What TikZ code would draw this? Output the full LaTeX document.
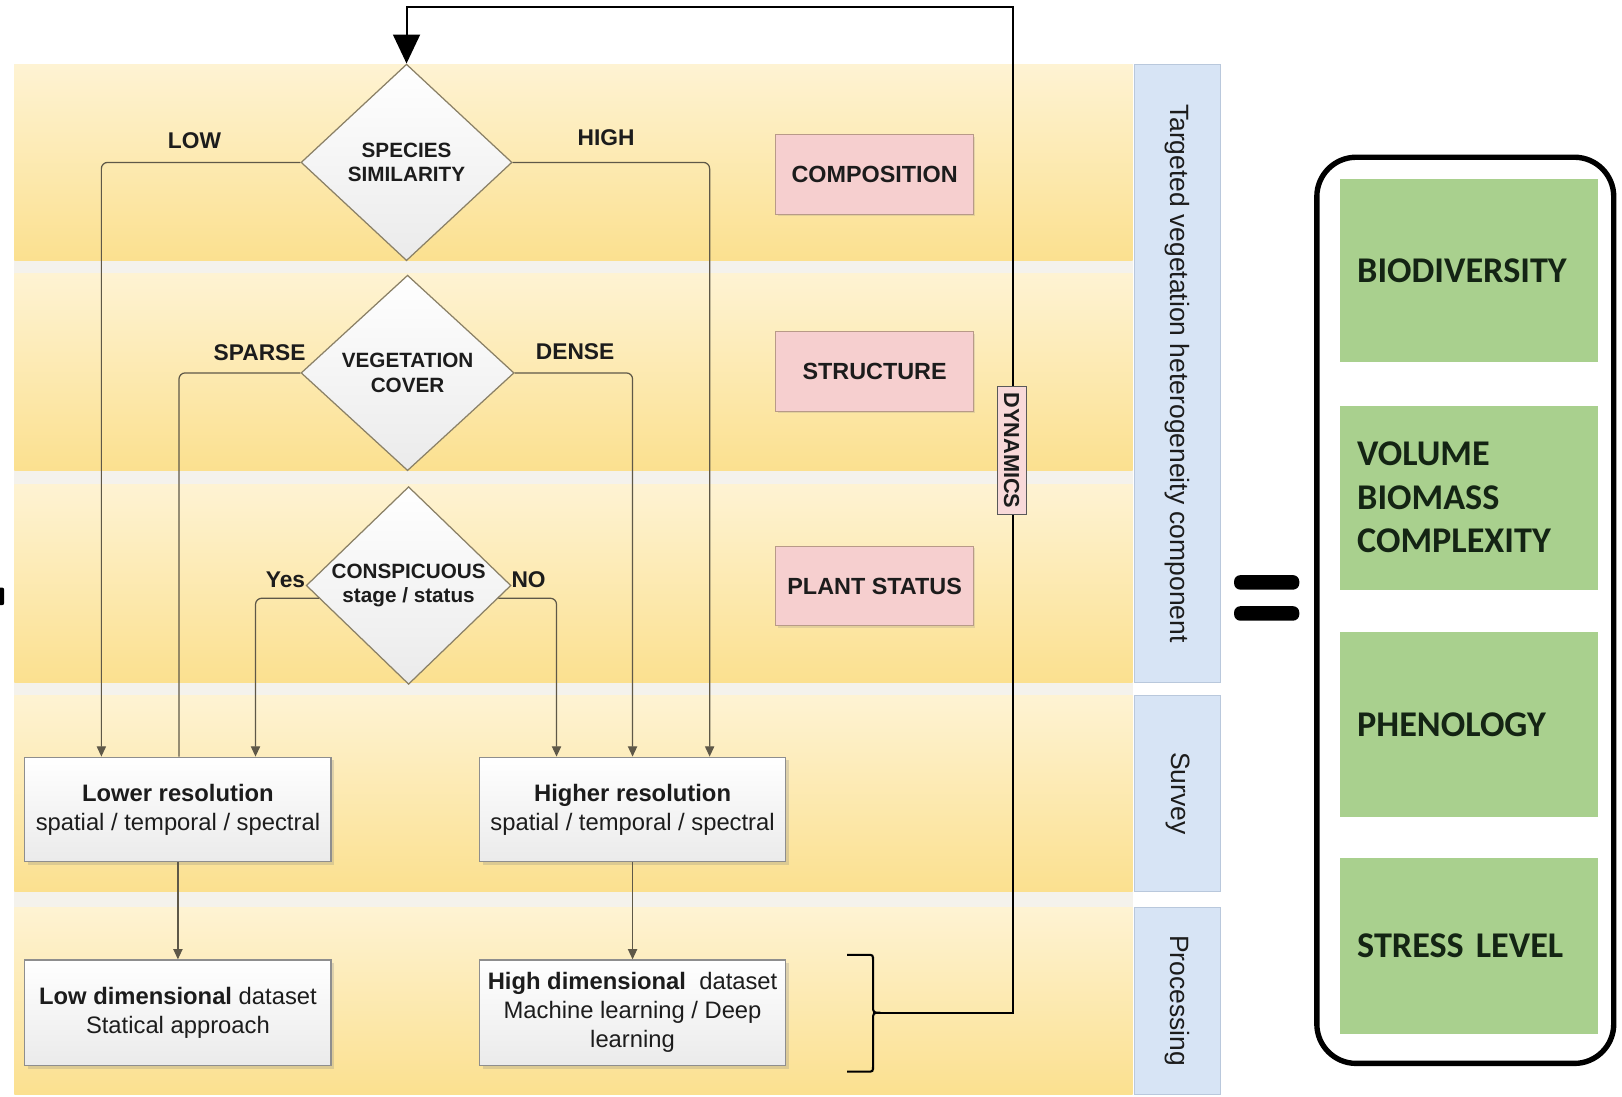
\documentclass[tikz,border=0pt]{standalone}
\usepackage{fontspec}
\setmainfont{Liberation Sans}
\newfontfamily\calib{Carlito}
\usetikzlibrary{shapes.geometric,arrows.meta,calc,shadows}
\definecolor{bandtop}{HTML}{FEF3D3}
\definecolor{bandbot}{HTML}{FBE08F}
\definecolor{gapc}{HTML}{F4F2EC}
\definecolor{lanefill}{HTML}{D7E4F5}
\definecolor{laneborder}{HTML}{B9C8DC}
\definecolor{pinkfill}{HTML}{F6CFCF}
\definecolor{pinkborder}{HTML}{B89A88}
\definecolor{greenfill}{HTML}{A9D08E}
\definecolor{greentext}{HTML}{142414}
\definecolor{connc}{HTML}{5E5848}
\definecolor{diaborder}{HTML}{8A8066}
\definecolor{boxborder}{HTML}{8E8E8E}
\definecolor{textdark}{HTML}{1C1C1C}
\tikzset{
  dia/.style={diamond, draw=diaborder, line width=0.6pt, top color=white, bottom color=gray!16,
    inner sep=0pt, align=center, text=textdark, font=\bfseries\fontsize{10}{12}\selectfont},
  flowbox/.style={rectangle, draw=boxborder, line width=0.6pt, top color=white, bottom color=gray!16,
    minimum width=148pt, minimum height=50.5pt, inner sep=1pt, align=center, text=textdark,
    font=\fontsize{11.5}{14}\selectfont,
    drop shadow={shadow xshift=1.5pt, shadow yshift=-1.5pt, opacity=0.25}},
  pinkbox/.style={rectangle, fill=pinkfill, draw=pinkborder, line width=0.5pt,
    minimum width=95.5pt, minimum height=38.5pt, text=textdark,
    font=\bfseries\fontsize{11.3}{13}\selectfont,
    drop shadow={shadow xshift=1pt, shadow yshift=-1pt, opacity=0.2}},
  lbl/.style={inner sep=0pt, text=textdark, font=\bfseries\fontsize{11}{13}\selectfont},
  conn/.style={draw=connc, line width=0.6pt, rounded corners=3pt},
  arr/.style={conn, -{Triangle[length=5pt,width=4.5pt]}},
  lane/.style={rotate=-90, fill=lanefill, draw=laneborder, line width=0.4pt, inner sep=0pt,
    minimum height=41.5pt, text=textdark, font=\fontsize{12.8}{15}\selectfont},
  greenbox/.style={fill=greenfill, minimum width=125pt, inner xsep=8.5pt, text width=108pt,
    align=left, text=greentext, font=\calib\bfseries\fontsize{17.5}{21}\selectfont},
  fbline/.style={draw=black, line width=1pt},
  dynbox/.style={rotate=-90, fill=pinkfill!80!white, draw=gray!70!black, line width=0.5pt,
    minimum width=61.5pt, minimum height=14pt, inner sep=0.5pt, text=textdark,
    font=\bfseries\fontsize{10.5}{12}\selectfont}
}
\begin{document}
\begin{tikzpicture}[x=0.5pt,y=-0.5pt]
\useasboundingbox (0,0) rectangle (1568,1060);
\fill[white] (0,0) rectangle (1568,1060);

% swim-lane background
\fill[gapc] (14,62) rectangle (1095,1058);
\foreach \a/\b in {62/252,264/455,468/660,672/862,877/1058}
  \shade[top color=bandtop, bottom color=bandbot] (14,\a) rectangle (1095,\b);

% lane labels
\node[lane, minimum width=299pt] (lane1) at (1138.5,361) {Targeted vegetation heterogeneity component};
\node[lane, minimum width=95pt] (lane2) at (1138.5,767) {Survey};
\node[lane, minimum width=90.5pt] (lane3) at (1138.5,967.5) {Processing};

% small mark at left edge
\fill[black, rounded corners=1pt] (-2,568) rectangle (4,585);

% decisions
\node[dia, minimum width=102pt, minimum height=95pt] (d1) at (393,157) {SPECIES\\SIMILARITY};
\node[dia, minimum width=103pt, minimum height=94.5pt] (d2) at (394,360.5) {VEGETATION\\COVER};
\node[dia, minimum width=99pt, minimum height=94pt] (d3) at (395,566) {CONSPICUOUS\\stage / status};

% boxes
\node[flowbox] (lowres) at (172,782.5) {\textbf{Lower resolution}\\spatial / temporal / spectral};
\node[flowbox] (hires) at (611.5,782.5) {\textbf{Higher resolution}\\spatial / temporal / spectral};
\node[flowbox, minimum height=51pt] (lowdim) at (172,979) {\textbf{Low dimensional} dataset\\Statical approach};
\node[flowbox, minimum height=51pt] (hidim) at (611.5,979) {\textbf{High dimensional}\ \ dataset\\Machine learning / Deep\\learning};

% pink components
\node[pinkbox] (comp) at (845.5,168.5) {COMPOSITION};
\node[pinkbox] (struct) at (845.5,359) {STRUCTURE};
\node[pinkbox] (pstat) at (845.5,566.5) {PLANT STATUS};

% branch labels
\node[lbl] (lLow) at (188,136) {LOW};
\node[lbl] (lHigh) at (586,133) {HIGH};
\node[lbl] (lSparse) at (251,341) {SPARSE};
\node[lbl] (lDense) at (556,340) {DENSE};
\node[lbl] (lYes) at (276,560) {Yes};
\node[lbl] (lNo) at (511,560) {NO};

% connectors
\draw[arr] (d1.west) -| ([xshift=-37pt]lowres.north);
\draw[arr] (d1.east) -| ([xshift=37.25pt]hires.north);
\draw[conn] (d2.west) -| ([xshift=0.5pt]lowres.north);
\draw[arr] (d2.east) -| (hires.north);
\draw[arr] ($(d3.west)!0.128!(d3.south)$) -| ([xshift=37.5pt]lowres.north);
\draw[arr] ($(d3.east)!0.128!(d3.south)$) -| ([xshift=-36.75pt]hires.north);
\draw[arr] (lowres.south) -- (lowdim.north);
\draw[arr] (hires.south) -- (hidim.north);

% brace and feedback loop
\draw[line width=1pt, black] (819,923) -- (838,923) .. controls (844,923) .. (844,929) -- (844,972)
   .. controls (844,979) .. (851,979) .. controls (844,979) .. (844,986) -- (844,1030)
   .. controls (844,1036) .. (838,1036) -- (819,1036);
\coordinate (bt) at (851,979);
\coordinate (fb1) at (979,979);
\coordinate (fb2) at (979,7);
\coordinate (fb3) at (393,7);
\draw[fbline, -{Triangle[length=14pt,width=13pt]}] (bt) -- (fb1) -- (fb2) -- (fb3) -- (d1.north);
\node[dynbox] (dyn) at (978,435.5) {DYNAMICS};

% equals sign
\fill[black, rounded corners=3pt] (1193,556) rectangle (1256,570);
\fill[black, rounded corners=3pt] (1193,586) rectangle (1256,600);

% right panel
\draw[black, line width=2.6pt, rounded corners=19pt, fill=white] (1273,152) rectangle (1560,1028);
\node[greenbox, minimum height=88.5pt] (bio) at (1420,261.5) {BIODIVERSITY};
\node[greenbox, minimum height=89pt] (vol) at (1420,481) {VOLUME\\BIOMASS\\COMPLEXITY};
\node[greenbox, minimum height=89.5pt] (phen) at (1420,700.5) {PHENOLOGY};
\node[greenbox, minimum height=85.5pt] (stress) at (1420,914.5) {STRESS LEVEL};
\end{tikzpicture}
\end{document}
